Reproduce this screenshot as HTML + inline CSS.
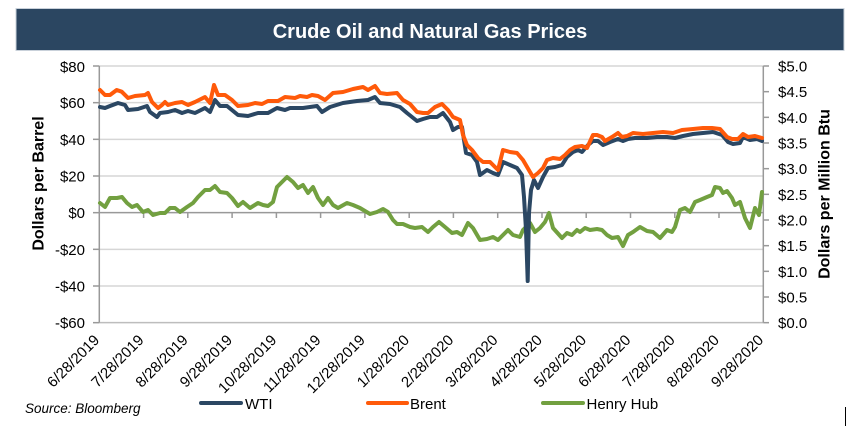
<!DOCTYPE html>
<html>
<head>
<meta charset="utf-8">
<style>
html,body{margin:0;padding:0;background:#fff;}
svg{display:block;}
text{font-family:"Liberation Sans",Arial,sans-serif;}
</style>
</head>
<body>
<svg width="856" height="430" viewBox="0 0 856 430" xmlns="http://www.w3.org/2000/svg">
<rect x="0" y="0" width="856" height="430" fill="#fff"/>
<!-- title bar -->
<rect x="16" y="8.5" width="828" height="42" fill="#2B4661" stroke="#c9d1da" stroke-width="1"/>
<text x="430" y="38" font-size="20" font-weight="bold" fill="#fff" text-anchor="middle">Crude Oil and Natural Gas Prices</text>

<!-- gridlines -->
<g stroke="#d6d6d6" stroke-width="1.5">
<line x1="99.3" y1="66" x2="763.3" y2="66"/>
<line x1="99.3" y1="102.67" x2="763.3" y2="102.67"/>
<line x1="99.3" y1="139.33" x2="763.3" y2="139.33"/>
<line x1="99.3" y1="176" x2="763.3" y2="176"/>
<line x1="99.3" y1="249.33" x2="763.3" y2="249.33"/>
<line x1="99.3" y1="286" x2="763.3" y2="286"/>
</g>
<!-- bottom line -->
<line x1="99.3" y1="322.67" x2="763.3" y2="322.67" stroke="#bdbdbd" stroke-width="1.5"/>
<!-- axes -->
<g stroke="#999" stroke-width="1.5">
<line x1="99.3" y1="66" x2="99.3" y2="322.67"/>
<line x1="763.3" y1="66" x2="763.3" y2="322.67"/>
<line x1="99.3" y1="212.67" x2="763.3" y2="212.67"/>
<!-- left ticks -->
<line x1="93" y1="66" x2="99.3" y2="66"/>
<line x1="93" y1="102.67" x2="99.3" y2="102.67"/>
<line x1="93" y1="139.33" x2="99.3" y2="139.33"/>
<line x1="93" y1="176" x2="99.3" y2="176"/>
<line x1="93" y1="212.67" x2="99.3" y2="212.67"/>
<line x1="93" y1="249.33" x2="99.3" y2="249.33"/>
<line x1="93" y1="286" x2="99.3" y2="286"/>
<line x1="93" y1="322.67" x2="99.3" y2="322.67"/>
<!-- right ticks -->
<line x1="763.3" y1="66" x2="769" y2="66"/>
<line x1="763.3" y1="91.67" x2="769" y2="91.67"/>
<line x1="763.3" y1="117.33" x2="769" y2="117.33"/>
<line x1="763.3" y1="143" x2="769" y2="143"/>
<line x1="763.3" y1="168.67" x2="769" y2="168.67"/>
<line x1="763.3" y1="194.33" x2="769" y2="194.33"/>
<line x1="763.3" y1="220" x2="769" y2="220"/>
<line x1="763.3" y1="245.67" x2="769" y2="245.67"/>
<line x1="763.3" y1="271.33" x2="769" y2="271.33"/>
<line x1="763.3" y1="297" x2="769" y2="297"/>
<line x1="763.3" y1="322.67" x2="769" y2="322.67"/>
<!-- x ticks -->
<line x1="143.6" y1="212.67" x2="143.6" y2="218"/>
<line x1="187.8" y1="212.67" x2="187.8" y2="218"/>
<line x1="232.1" y1="212.67" x2="232.1" y2="218"/>
<line x1="276.4" y1="212.67" x2="276.4" y2="218"/>
<line x1="320.6" y1="212.67" x2="320.6" y2="218"/>
<line x1="364.9" y1="212.67" x2="364.9" y2="218"/>
<line x1="409.2" y1="212.67" x2="409.2" y2="218"/>
<line x1="453.4" y1="212.67" x2="453.4" y2="218"/>
<line x1="497.7" y1="212.67" x2="497.7" y2="218"/>
<line x1="542.0" y1="212.67" x2="542.0" y2="218"/>
<line x1="586.2" y1="212.67" x2="586.2" y2="218"/>
<line x1="630.5" y1="212.67" x2="630.5" y2="218"/>
<line x1="674.8" y1="212.67" x2="674.8" y2="218"/>
<line x1="719.0" y1="212.67" x2="719.0" y2="218"/>
</g>

<!-- left labels -->
<g font-size="15" fill="#000" text-anchor="end">
<text x="85" y="72">$80</text>
<text x="85" y="108.2">$60</text>
<text x="85" y="144.9">$40</text>
<text x="85" y="181.5">$20</text>
<text x="85" y="218.2">$0</text>
<text x="85" y="254.9">-$20</text>
<text x="85" y="291.5">-$40</text>
<text x="85" y="328.2">-$60</text>
</g>
<!-- right labels -->
<g font-size="15" fill="#000">
<text x="778" y="71.5">$5.0</text>
<text x="778" y="97.2">$4.5</text>
<text x="778" y="122.8">$4.0</text>
<text x="778" y="148.5">$3.5</text>
<text x="778" y="174.2">$3.0</text>
<text x="778" y="199.8">$2.5</text>
<text x="778" y="225.5">$2.0</text>
<text x="778" y="251.2">$1.5</text>
<text x="778" y="276.8">$1.0</text>
<text x="778" y="302.5">$0.5</text>
<text x="778" y="328.2">$0.0</text>
</g>
<!-- axis titles -->
<text transform="translate(43.5,183.5) rotate(-90)" font-size="16" font-weight="bold" text-anchor="middle">Dollars per Barrel</text>
<text transform="translate(829.5,194) rotate(-90)" font-size="16" font-weight="bold" text-anchor="middle">Dollars per Million Btu</text>

<!-- x labels -->
<g font-size="15" fill="#000" text-anchor="end">
<text transform="translate(100.3,341) rotate(-45)">6/28/2019</text>
<text transform="translate(144.6,341) rotate(-45)">7/28/2019</text>
<text transform="translate(188.8,341) rotate(-45)">8/28/2019</text>
<text transform="translate(233.1,341) rotate(-45)">9/28/2019</text>
<text transform="translate(277.4,341) rotate(-45)">10/28/2019</text>
<text transform="translate(321.6,341) rotate(-45)">11/28/2019</text>
<text transform="translate(365.9,341) rotate(-45)">12/28/2019</text>
<text transform="translate(410.2,341) rotate(-45)">1/28/2020</text>
<text transform="translate(454.4,341) rotate(-45)">2/28/2020</text>
<text transform="translate(498.7,341) rotate(-45)">3/28/2020</text>
<text transform="translate(543.0,341) rotate(-45)">4/28/2020</text>
<text transform="translate(587.2,341) rotate(-45)">5/28/2020</text>
<text transform="translate(631.5,341) rotate(-45)">6/28/2020</text>
<text transform="translate(675.8,341) rotate(-45)">7/28/2020</text>
<text transform="translate(720.0,341) rotate(-45)">8/28/2020</text>
<text transform="translate(764.3,341) rotate(-45)">9/28/2020</text>
</g>

<!-- series -->
<g fill="none" stroke-width="4" stroke-linejoin="round" stroke-linecap="round">
<polyline stroke="#72A040" points="100,203 105,207 110,198 117,198 122,197 127,203 132,207 137,205 143,212 148,210 153,215 160,213 165,213 170,208 175,208 180,212 187,207 193,203 198,197 205,190 210,190 215,186 220,192 227,193 232,198 238,206 243,202 250,208 258,203 263,205 268,206 273,202 277,187 282,182 287,177 293,182 298,188 303,185 308,193 313,187 318,198 323,205 328,198 333,205 338,208 347,203 353,205 360,208 365,211 370,214 377,212 383,209 388,212 393,220 397,224 403,224 410,227 415,228 422,227 428,232 433,227 439,222 445,227 452,233 457,232 462,235 468,223 473,228 480,240 487,239 493,237 498,240 503,235 508,230 513,235 520,237 523,230 530,223 535,232 540,228 545,222 549,213 553,228 562,238 567,233 572,235 577,230 580,232 585,228 590,230 597,229 602,230 607,235 612,238 618,237 623,246 628,235 633,232 640,227 647,231 653,232 660,238 667,230 672,232 675,227 680,210 685,208 690,212 695,202 700,200 707,197 712,195 715,187 720,188 723,193 727,191 732,198 735,205 740,202 745,218 750,228 755,208 759,215 762,192"/>
<polyline stroke="#2B4763" points="100,107 105,108 110,106 118,103 125,105 128,110 138,109 147,106 150,112 157,117 160,113 168,112 175,110 182,113 188,111 195,113 205,108 210,112 215,100 220,106 227,106 238,115 248,116 258,113 268,113 277,108 285,110 290,108 303,108 317,106 322,112 330,107 343,103 357,101 368,100 375,97 380,103 390,104 400,107 407,113 417,121 423,119 430,117 437,117 443,113 450,122 453,130 458,127 462,127 466,153 472,155 477,162 480,175 487,170 493,173 498,175 503,162 510,165 517,168 522,175 524,197 526,230 527.7,281 529,213 531,190 534,180 538,188 543,177 548,168 555,167 562,165 567,157 573,152 578,150 582,152 588,145 593,141 598,141 603,145 610,142 618,139 623,141 628,139 635,138 647,138 657,137 667,137 675,138 683,136 693,134 703,133 713,132 722,135 728,142 733,144 740,143 743,137 750,140 757,139 762,141"/>
<polyline stroke="#FF5A0A" points="100,90 105,95 110,95 116.7,90 121.7,91.7 128,98 135,96 145,95 148,93 152,102 158,108 162,105 165,102 168,105 175,103 182,102 188,105 195,102 205,97 210,103 214,85 218,95 225,95 232,100 238,106 248,105 255,103 262,104 268,101 278,101 285,97 295,98 300,96 307,97 312,95 318,96 325,100 333,93 343,92 353,89 363,87 368,90 375,86 380,93 387,94 397,93 403,100 410,104 417,112 423,113 428,113 435,107 442,104 448,110 453,117 460,120 463,135 467,145 472,150 478,158 483,162 490,162 498,170 503,150 510,152 517,153 523,160 530,172 533,177 538,173 543,168 547,160 553,158 560,159 565,155 570,150 575,147 582,146 587,148 593,135 597,135 602,137 605,141 612,137 618,133 622,137 627,136 633,133 643,134 653,133 663,132 673,133 682,130 693,129 703,128 712,128 720,129 727,137 732,139 738,139 743,134 748,137 755,136 762,138"/>
</g>

<!-- legend -->
<line x1="201" y1="403" x2="241" y2="403" stroke="#2B4763" stroke-width="4" stroke-linecap="round"/>
<text x="245" y="409" font-size="15">WTI</text>
<line x1="368" y1="403" x2="407" y2="403" stroke="#FF5A0A" stroke-width="4" stroke-linecap="round"/>
<text x="410" y="409" font-size="15">Brent</text>
<line x1="543" y1="403" x2="583" y2="403" stroke="#72A040" stroke-width="4" stroke-linecap="round"/>
<text x="586.5" y="409" font-size="15">Henry Hub</text>

<text x="25" y="413" font-size="13.5" font-style="italic">Source: Bloomberg</text>
<line x1="845.5" y1="407" x2="845.5" y2="426" stroke="#000" stroke-width="1"/>
</svg>
</body>
</html>
